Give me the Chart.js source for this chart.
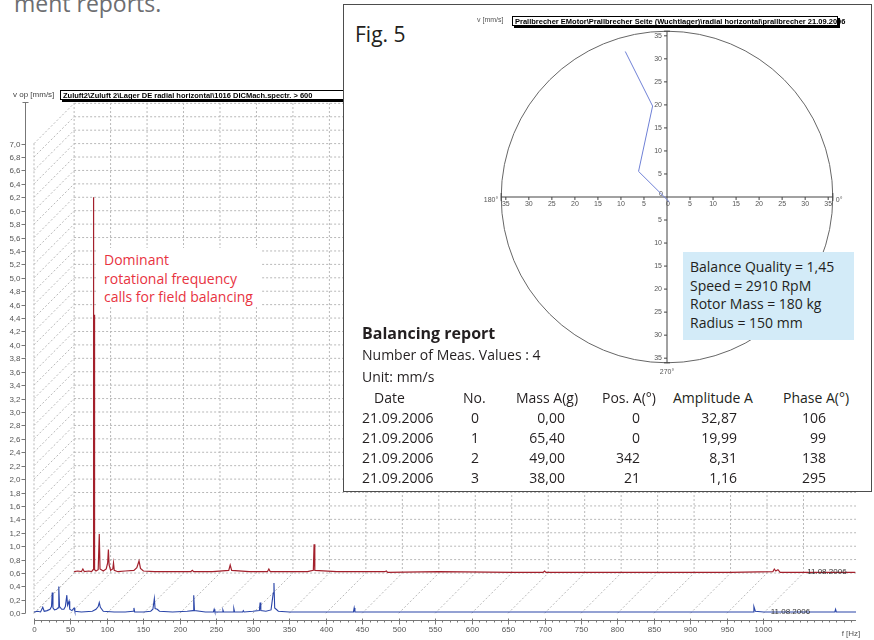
<!DOCTYPE html>
<html>
<head>
<meta charset="utf-8">
<title>Field balancing</title>
<script src="https://cdn.jsdelivr.net/npm/chart.js@4.4.1/dist/chart.umd.min.js"></script>
<style>
  body { margin: 0; background: #fff; }
  #page { position: relative; width: 874px; height: 640px; overflow: hidden; font-family: "Open Sans", sans-serif; color: #231f20; }
  #page canvas { position: absolute; }
  .txt { position: absolute; white-space: nowrap; font-size: 14px; line-height: 20px; }
  #intro { left: 14px; top: -8px; font-size: 23px; line-height: 23px; color: #6d6e71; }
  #note { left: 96px; top: 248px; width: 166px; height: 59px; padding-left: 8px; background: #fff; color: #e8333f; line-height: 18.5px; padding-top: 3px; box-sizing: border-box; }
  #panel { position: absolute; left: 343px; top: 4px; width: 529px; height: 488px; border: 1px solid #4d4d4d; box-sizing: border-box; background: #fff; }
  #fig { left: 355px; top: 20px; font-size: 21px; line-height: 28px; }
  #info { position: absolute; left: 683px; top: 252px; width: 171px; height: 88px; background: #d3ebf8; padding: 6px 0 0 7px; box-sizing: border-box; font-size: 14px; line-height: 18.5px; }
</style>
</head>
<body>
<div id="page">
  <div class="txt" id="intro">ment reports.</div>
  <canvas id="spectrum" width="874" height="640" style="left:0;top:0"></canvas>
  <div class="txt" id="note">Dominant<br>rotational frequency<br>calls for field balancing</div>
  <div id="panel"></div>
  <canvas id="polar" width="390" height="372" style="left:470px;top:8px"></canvas>
  <div class="txt" id="fig">Fig. 5</div>
  <div id="info"></div>
</div>
<script>
// spectrum, front trace (mm/s over Hz)
const blueFreq = [0, 5, 9, 12, 14, 18, 22, 24, 25, 26, 28, 31, 33, 34, 35, 38, 41, 43, 45, 46, 48, 49, 52, 55, 56, 65, 80, 85, 88, 89.5, 91, 95, 110, 125, 136, 137, 138, 150, 160, 163, 165, 166, 169, 172, 190, 210, 218, 219, 220, 235, 246, 247, 248, 258, 259, 260, 273, 274, 275, 286, 287, 288, 300, 309, 310, 311, 318, 325, 328, 329, 330, 335, 350, 400, 438, 439, 440, 500, 600, 700, 800, 900, 986, 987, 989, 1000, 1050, 1098, 1099, 1100, 1127];
const blueAmp = [0.02, 0.03, 0.02, 0.09, 0.03, 0.04, 0.06, 0.1, 0.31, 0.08, 0.05, 0.06, 0.08, 0.40, 0.1, 0.06, 0.06, 0.1, 0.27, 0.12, 0.18, 0.06, 0.04, 0.08, 0.03, 0.02, 0.03, 0.06, 0.1, 0.16, 0.09, 0.03, 0.02, 0.02, 0.03, 0.08, 0.02, 0.02, 0.03, 0.06, 0.22, 0.07, 0.06, 0.03, 0.02, 0.03, 0.04, 0.27, 0.04, 0.02, 0.02, 0.06, 0.02, 0.02, 0.05, 0.02, 0.02, 0.07, 0.02, 0.02, 0.04, 0.02, 0.03, 0.04, 0.16, 0.04, 0.03, 0.05, 0.3, 0.45, 0.08, 0.03, 0.02, 0.02, 0.02, 0.08, 0.02, 0.02, 0.02, 0.02, 0.02, 0.02, 0.02, 0.1, 0.03, 0.02, 0.02, 0.02, 0.06, 0.02, 0.02];

// spectrum, rear trace (own Hz, mm/s above its base line)
const redFreq = [0, 5, 10, 12, 14, 20, 24, 26, 26.5, 26.9, 27.3, 27.7, 28.0, 28.4, 30, 33, 34.5, 35.5, 40, 44, 46, 47, 48, 50, 53, 54, 55, 60, 70, 82, 86, 89, 91, 95, 110, 130, 160, 162, 164, 190, 212, 214, 216, 240, 265, 267, 269, 300, 320, 328, 329, 330, 360, 400, 426, 428, 430, 500, 600, 643, 645, 647, 800, 900, 958, 960, 962, 965, 968, 1000, 1071];
const redAmp = [0.02, 0.03, 0.02, 0.06, 0.02, 0.03, 0.02, 0.05, 5.6, 0.4, 3.85, 0.2, 3.8, 0.05, 0.03, 0.05, 0.58, 0.06, 0.03, 0.06, 0.15, 0.35, 0.12, 0.04, 0.06, 0.15, 0.04, 0.02, 0.03, 0.04, 0.08, 0.18, 0.07, 0.03, 0.02, 0.02, 0.02, 0.04, 0.02, 0.02, 0.04, 0.12, 0.04, 0.02, 0.02, 0.06, 0.02, 0.02, 0.02, 0.04, 0.43, 0.04, 0.02, 0.02, 0.02, 0.03, 0.01, 0.02, 0.01, 0.01, 0.03, 0.01, 0.01, 0.01, 0.02, 0.06, 0.03, 0.05, 0.01, 0.01, 0.01];

const traceDates = ['11.08.2006', '11.08.2006'];
const xTicks = [0, 50, 100, 150, 200, 250, 300, 350, 400, 450, 500, 550, 600, 650, 700, 750, 800, 850, 900, 950, 1000];
const yTicks = [0, 0.2, 0.4, 0.6, 0.8, 1.0, 1.2, 1.4, 1.6, 1.8, 2.0, 2.2, 2.4, 2.6, 2.8, 3.0, 3.2, 3.4, 3.6, 3.8, 4.0, 4.2, 4.4, 4.6, 4.8, 5.0, 5.2, 5.4, 5.6, 5.8, 6.0, 6.2, 6.4, 6.6, 6.8, 7.0];

// waterfall offset of the rear trace
const rearShiftHz = 55;
const rearLift = 0.6;

// balancing report
const measDates = ['21.09.2006', '21.09.2006', '21.09.2006', '21.09.2006'];
const measNo = [0, 1, 2, 3];
const massA = [0, 65.4, 49, 38];
const posA = [0, 0, 342, 21];
const ampA = [32.87, 19.99, 8.31, 1.16];
const phaseA = [106, 99, 138, 295];
const polarTicks = [5, 10, 15, 20, 25, 30, 35];
const polarRim = 36;
const balanceInfo = ['Balance Quality = 1,45', 'Speed = 2910 RpM', 'Rotor Mass = 180 kg', 'Radius = 150 mm'];

const de = (v, d) => v.toFixed(d).replace('.', ',');
const small = '8px "Liberation Sans", sans-serif';

const line = (ctx, x1, y1, x2, y2) => {
    ctx.beginPath();
    ctx.moveTo(x1, y1);
    ctx.lineTo(x2, y2);
    ctx.stroke();
};

const headerBox = (ctx, x, y, w, h, text) => {
    ctx.fillStyle = '#000';
    ctx.fillRect(x + 2, y + 2, w, h);
    ctx.fillStyle = '#fff';
    ctx.fillRect(x, y, w, h);
    ctx.strokeStyle = '#000';
    ctx.lineWidth = 1;
    ctx.strokeRect(x + 0.5, y + 0.5, w - 1, h - 1);
    ctx.fillStyle = '#000';
    ctx.font = 'bold 7.5px "Liberation Sans", sans-serif';
    ctx.textAlign = 'left';
    ctx.textBaseline = 'middle';
    ctx.fillText(text, x + 3, y + h / 2 + 0.5);
};

// 3d grid, axes and labels of the spectrum
const waterfall = {
    id: 'waterfall',
    beforeDatasetsDraw(chart) {
        const { ctx, scales: { x, y } } = chart;
        const X = v => x.getPixelForValue(v);
        const Y = v => y.getPixelForValue(v);
        const last = yTicks[yTicks.length - 1];
        ctx.save();
        ctx.strokeStyle = '#b8b8b8';
        ctx.lineWidth = 1;
        ctx.setLineDash([2, 2]);
        // rear wall
        yTicks.forEach(v => line(ctx, X(rearShiftHz), Y(v + rearLift), X(x.max), Y(v + rearLift)));
        xTicks.forEach(f => line(ctx, X(f + rearShiftHz), Y(rearLift), X(f + rearShiftHz), Y(last + rearLift)));
        // side wall and floor
        yTicks.forEach(v => line(ctx, X(0), Y(v), X(rearShiftHz), Y(v + rearLift)));
        xTicks.forEach(f => line(ctx, X(f), Y(0), X(f + rearShiftHz), Y(rearLift)));
        line(ctx, X(0), Y(0), X(0), Y(last));
        ctx.restore();
    },
    afterDraw(chart) {
        const { ctx, chartArea, scales: { x, y } } = chart;
        const X = v => x.getPixelForValue(v);
        const Y = v => y.getPixelForValue(v);
        ctx.save();
        ctx.strokeStyle = '#777';
        ctx.lineWidth = 1;
        ctx.fillStyle = '#555';
        ctx.font = small;

        // y axis
        const ax = chartArea.left - 8.5;
        line(ctx, ax, Y(0), ax, chartArea.top);
        line(ctx, ax - 3, chartArea.top + 0.5, ax + 3, chartArea.top + 0.5);
        ctx.textAlign = 'right';
        ctx.textBaseline = 'middle';
        yTicks.forEach(v => {
            const py = Math.round(Y(v)) + 0.5;
            line(ctx, ax - 4, py, ax, py);
            ctx.fillText(de(v, 1), ax - 5, py);
        });

        // x axis
        const ay = Math.round(chartArea.bottom) + 0.5;
        line(ctx, X(0), ay, X(x.max), ay);
        ctx.textAlign = 'center';
        ctx.textBaseline = 'middle';
        for (let f = 0; f <= x.max; f += 10) {
            const px = Math.round(X(f)) + 0.5;
            line(ctx, px, ay, px, ay + 2);
        }
        xTicks.forEach(f => {
            const px = Math.round(X(f)) + 0.5;
            line(ctx, px, ay - 2, px, ay + 4);
            ctx.fillText(String(f), px, ay + 9);
        });
        ctx.fillText('f [Hz]', 851, 634);

        // trace dates
        ctx.fillStyle = '#333';
        ctx.textAlign = 'left';
        ctx.fillText(traceDates[0], X(1060), Y(rearLift + 0.02));
        ctx.fillText(traceDates[1], X(1010), Y(0.02));

        // header
        ctx.fillStyle = '#444';
        ctx.fillText('v op [mm/s]', 13, 95);
        headerBox(ctx, 60, 90, 300, 10, 'Zuluft2\\Zuluft 2\\Lager DE radial horizontal\\1016 DICMach.spectr. > 600');
        ctx.restore();
    }
};

new Chart(document.getElementById('spectrum'), {
    type: 'scatter',
    data: {
        datasets: [{
            data: blueFreq.map((f, i) => ({ x: f, y: blueAmp[i] })),
            showLine: true,
            borderColor: '#2a45a8',
            borderWidth: 1.1,
            pointRadius: 0,
        }, {
            data: redFreq.map((f, i) => ({ x: f + rearShiftHz, y: redAmp[i] + rearLift })),
            showLine: true,
            borderColor: '#a3202c',
            borderWidth: 1.2,
            pointRadius: 0,
        }]
    },
    options: {
        responsive: false,
        animation: false,
        layout: { padding: { left: 34, right: 18, top: 102, bottom: 20 } },
        scales: {
            x: { type: 'linear', display: false, min: 0, max: 1127 },
            y: { type: 'linear', display: false, min: -0.1, max: 7.62 },
        },
        plugins: { legend: { display: false }, tooltip: { enabled: false } },
    },
    plugins: [waterfall]
});

// polar plot of the balancing runs
const polarFrame = {
    id: 'polarFrame',
    beforeDatasetsDraw(chart) {
        const { ctx, scales: { x, y } } = chart;
        const cx = x.getPixelForValue(0);
        const cy = y.getPixelForValue(0);
        const r = x.getPixelForValue(polarRim) - cx;
        ctx.save();
        ctx.strokeStyle = '#666';
        ctx.lineWidth = 1;
        ctx.beginPath();
        ctx.arc(cx, cy, r, 0, Math.PI * 2);
        ctx.stroke();

        ctx.strokeStyle = '#444';
        line(ctx, cx - r, cy, cx + r, cy);
        line(ctx, cx, cy - r, cx, cy + r);
        line(ctx, cx - r, cy - 4, cx - r, cy + 4);
        line(ctx, cx + r, cy - 4, cx + r, cy + 4);
        line(ctx, cx - 3, cy - r, cx + 3, cy - r);
        line(ctx, cx - 3, cy + r, cx + 3, cy + r);

        ctx.fillStyle = '#555';
        ctx.font = '7px "Liberation Sans", sans-serif';
        ctx.textBaseline = 'middle';
        polarTicks.forEach(t => {
            [-1, 1].forEach(s => {
                const px = x.getPixelForValue(s * t);
                const py = y.getPixelForValue(s * t);
                line(ctx, px, cy, px, cy + 3);
                line(ctx, cx - 3, py, cx, py);
                ctx.textAlign = 'center';
                ctx.fillText(String(t), px, cy + 7);
                ctx.textAlign = 'right';
                ctx.fillText(String(t), cx - 5, py);
            });
        });
        ctx.textAlign = 'right';
        ctx.fillText('0', cx - 4, cy - 3);
        ctx.textAlign = 'center';
        ctx.fillText('0', cx + 1, cy + 7);
        ctx.textAlign = 'right';
        ctx.fillText('180°', cx - r - 3, cy + 3);
        ctx.textAlign = 'left';
        ctx.fillText('0°', cx + r + 3, cy + 3);
        ctx.textAlign = 'center';
        ctx.fillText('270°', cx, cy + r + 9);

        ctx.textAlign = 'left';
        ctx.fillText('v [mm/s]', 7, 12);
        headerBox(ctx, 42, 8, 326, 10, 'Prallbrecher EMotor\\Prallbrecher Seite (Wuchtlager)\\radial horizontal\\prallbrecher 21.09.2006');
        ctx.restore();
    }
};

new Chart(document.getElementById('polar'), {
    type: 'scatter',
    data: {
        datasets: [{
            data: ampA.map((a, i) => ({
                x: a * Math.cos(phaseA[i] * Math.PI / 180),
                y: a * Math.sin(phaseA[i] * Math.PI / 180),
            })),
            showLine: true,
            borderColor: '#6f80d6',
            borderWidth: 1,
            pointRadius: 0,
        }]
    },
    options: {
        responsive: false,
        animation: false,
        layout: { padding: { left: 22, right: 18, top: 14, bottom: 8 } },
        scales: {
            x: { type: 'linear', display: false, min: -38, max: 38 },
            y: { type: 'linear', display: false, min: -38, max: 38 },
        },
        plugins: { legend: { display: false }, tooltip: { enabled: false } },
    },
    plugins: [polarFrame]
});

// text parts
const page = document.getElementById('page');
document.getElementById('info').innerHTML = balanceInfo.join('<br>');

const put = (text, x, yc, align, css = '') => {
    const el = document.createElement('div');
    el.className = 'txt';
    el.textContent = text;
    let left = x;
    if (align === 'right') left = x - 200;
    if (align === 'center') left = x - 100;
    el.style.cssText = `left:${left}px;top:${yc - 10}px;${align === 'left' ? '' : 'width:200px;'}text-align:${align};${css}`;
    page.appendChild(el);
};

put('Balancing report', 362, 333, 'left', 'font-weight:bold;font-size:16px;');
put('Number of Meas. Values : ' + measDates.length, 362, 355, 'left');
put('Unit: mm/s', 362, 377, 'left');

const cols = [
    { head: 'Date', hx: 374, x: 362, align: 'left', vals: measDates },
    { head: 'No.', hx: 463, x: 475, align: 'center', vals: measNo.map(String) },
    { head: 'Mass A(g)', hx: 516, x: 565, align: 'right', vals: massA.map(v => de(v, 2)) },
    { head: 'Pos. A(°)', hx: 602, x: 640, align: 'right', vals: posA.map(String) },
    { head: 'Amplitude A', hx: 673, x: 737, align: 'right', vals: ampA.map(v => de(v, 2)) },
    { head: 'Phase A(°)', hx: 783, x: 826, align: 'right', vals: phaseA.map(String) },
];
cols.forEach(c => {
    put(c.head, c.hx, 398, 'left');
    c.vals.forEach((v, i) => put(v, c.x, 418 + i * 20, c.align));
});
</script>
</body>
</html>
